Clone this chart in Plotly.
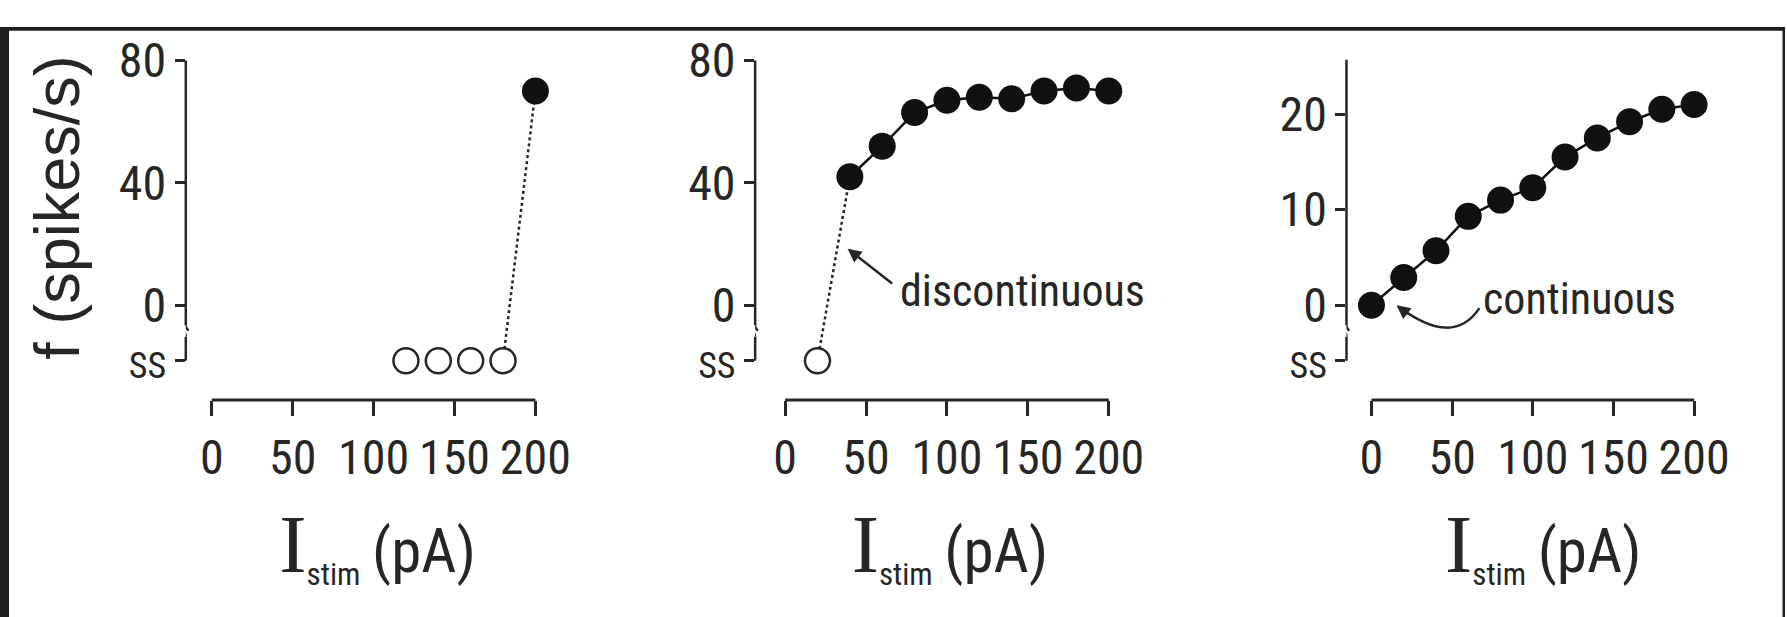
import plotly.graph_objects as go

W, H = 1787, 617

# ---------------- data ----------------
x_tick_vals = [0, 50, 100, 150, 200]
x_tick_text = ["0", "50", "100", "150", "200"]

# panel 1: only the largest current makes the cell fire
p1_ss_x = [120, 140, 160, 180]          # steady state (no repetitive firing)
p1_spk_x = [200]
p1_spk_y = [70]

# panel 2: discontinuous f-I curve
p2_ss_x = [20]
p2_spk_x = [40, 60, 80, 100, 120, 140, 160, 180, 200]
p2_spk_y = [42, 52, 63, 67, 68, 67.5, 70, 71, 70]

# panel 3: continuous f-I curve
p3_x = [0, 20, 40, 60, 80, 100, 120, 140, 160, 180, 200]
p3_y = [0, 2.9, 5.7, 9.3, 11, 12.3, 15.5, 17.5, 19.2, 20.5, 21]

ab_y_tick_vals = [0, 40, 80]
c_y_tick_vals = [0, 10, 20]

# ---------------- style ----------------
INK = "#262626"
NARROW = "Roboto Condensed, Liberation Sans, sans-serif"
SANS = "Liberation Sans, Arial, sans-serif"
SERIF = "Liberation Serif, Times New Roman, serif"
TICK_FS = 48
SS_FS = 36

TOP_PX, BOT_PX, ZERO_PX, SS_PX = 34, 390, 291, 349
BRK_TOP_PX, BRK_BOT_PX = 312, 324
panels = [
    dict(axis=186, x0=212, x200=536, right=570, yscale=(291 - 35) / 80.0, ytop_px=35),
    dict(axis=756, x0=786, x200=1110, right=1146, yscale=(291 - 35) / 80.0, ytop_px=35),
    dict(axis=1348, x0=1373, x200=1696, right=1742, yscale=10.0, ytop_px=34),
]

fig = go.Figure()
shapes, annos = [], []

x_title = ('<span style="font-family:' + SERIF + ';font-size:82px">I</span>'
           '<sub><span style="font-size:31px">stim</span></sub>\u2009(pA)')

for i, p in enumerate(panels):
    n = "" if i == 0 else str(i + 1)
    xs = (p["x200"] - p["x0"]) / 200.0
    xr = [-(p["x0"] - p["axis"]) / xs, 200 + (p["right"] - p["x200"]) / xs]
    ys = p["yscale"]
    yv = lambda px, ys=ys: (ZERO_PX - px) / ys
    yr = [yv(BOT_PX), yv(TOP_PX)]
    ss_val = yv(SS_PX)
    yticks = ab_y_tick_vals if i < 2 else c_y_tick_vals
    fig.layout["xaxis" + n] = dict(
        domain=[p["axis"] / W, p["right"] / W], range=xr, anchor="y" + n,
        showgrid=False, zeroline=False, showline=False,
        tickmode="array", tickvals=x_tick_vals, ticktext=x_tick_text,
        ticks="outside", ticklen=15, tickwidth=2.5, tickcolor=INK,
        ticklabelstandoff=0,
        tickfont=dict(family=NARROW, size=TICK_FS, color=INK),
        title=dict(text=x_title, standoff=44,
                   font=dict(family=NARROW, size=61, color=INK)),
    )
    fig.layout["yaxis" + n] = dict(
        domain=[1 - BOT_PX / H, 1 - TOP_PX / H], range=yr, anchor="x" + n,
        showgrid=False, zeroline=False, showline=False,
        tickmode="array",
        tickvals=[ss_val] + yticks,
        ticktext=['<span style="font-size:%dpx">SS</span>' % SS_FS] + [str(v) for v in yticks],
        ticks="outside", ticklen=10, tickwidth=2.5, tickcolor=INK,
        ticklabelstandoff=-1,
        tickfont=dict(family=NARROW, size=TICK_FS, color=INK),
    )
    xa, ya = "x" + n, "y" + n
    # x axis line spanning 0..200 only
    shapes.append(dict(type="line", xref=xa, yref=ya + " domain", x0=0, x1=200, y0=0, y1=0,
                       line=dict(color=INK, width=3)))
    # broken y axis line (gap between 0 and SS)
    shapes.append(dict(type="line", xref=xa + " domain", yref=ya, x0=0, x1=0,
                       y0=yv(p["ytop_px"]), y1=yv(BRK_TOP_PX), line=dict(color=INK, width=2.5)))
    shapes.append(dict(type="line", xref=xa + " domain", yref=ya, x0=0, x1=0,
                       y0=yv(BRK_BOT_PX), y1=ss_val, line=dict(color=INK, width=2.5)))
    shapes.append(dict(type="path", xref=xa, yref=ya, xsizemode="pixel", ysizemode="pixel",
                       xanchor=xr[0], yanchor=yv(BRK_TOP_PX), path="M0,0 Q0,-4 3,-5",
                       line=dict(color=INK, width=2.5)))
    shapes.append(dict(type="path", xref=xa, yref=ya, xsizemode="pixel", ysizemode="pixel",
                       xanchor=xr[0], yanchor=yv(BRK_BOT_PX), path="M0,0 Q0,4 -3,5",
                       line=dict(color=INK, width=2.5)))
    p["ss"] = ss_val

filled = dict(color="#111111", size=27, line=dict(width=0))
opened = dict(color="white", size=25, line=dict(color=INK, width=2.5))
dotted = dict(color=INK, width=2.5, dash="dot")
solid = dict(color="#111111", width=2.5)

# panel 1
fig.add_trace(go.Scatter(x=[p1_ss_x[-1], p1_spk_x[0]], y=[panels[0]["ss"], p1_spk_y[0]],
                         mode="lines", line=dotted, xaxis="x", yaxis="y", hoverinfo="skip"))
fig.add_trace(go.Scatter(x=p1_ss_x, y=[panels[0]["ss"]] * len(p1_ss_x), mode="markers",
                         marker=opened, xaxis="x", yaxis="y", cliponaxis=False))
fig.add_trace(go.Scatter(x=p1_spk_x, y=p1_spk_y, mode="markers", marker=filled,
                         xaxis="x", yaxis="y", cliponaxis=False))
# panel 2
fig.add_trace(go.Scatter(x=[p2_ss_x[-1], p2_spk_x[0]], y=[panels[1]["ss"], p2_spk_y[0]],
                         mode="lines", line=dotted, xaxis="x2", yaxis="y2", hoverinfo="skip"))
fig.add_trace(go.Scatter(x=p2_ss_x, y=[panels[1]["ss"]] * len(p2_ss_x), mode="markers",
                         marker=opened, xaxis="x2", yaxis="y2", cliponaxis=False))
fig.add_trace(go.Scatter(x=p2_spk_x, y=p2_spk_y, mode="lines+markers", marker=filled,
                         line=solid, xaxis="x2", yaxis="y2", cliponaxis=False))
# panel 3
fig.add_trace(go.Scatter(x=p3_x, y=p3_y, mode="lines+markers", marker=filled,
                         line=solid, xaxis="x3", yaxis="y3", cliponaxis=False))

# y title
annos.append(dict(xref="paper", yref="paper", x=57 / W, y=1 - 188 / H, text="f (spikes/s)",
                  textangle=-90, showarrow=False, xanchor="center", yanchor="middle",
                  font=dict(family=SANS, size=63, color=INK)))
# "discontinuous" label with straight arrow
annos.append(dict(xref="x2", yref="y2", x=38.6, y=18.5, ax=46, ay=36, text="",
                  showarrow=True, arrowhead=2, arrowsize=1.1, arrowwidth=2.5, arrowcolor=INK))
annos.append(dict(xref="x2", yref="y2", x=70, y=4.7, text="discontinuous", xanchor="left",
                  showarrow=False, font=dict(family=NARROW, size=44, color=INK)))
# "continuous" label with curved arrow
shapes.append(dict(type="path", xref="x3", yref="y3", path="M 66.9,-0.3 Q 50.5,-4.45 17,-0.15",
                   line=dict(color=INK, width=2.5)))
annos.append(dict(xref="x3", yref="y3", x=15.5, y=0, ax=13, ay=10, text="",
                  showarrow=True, arrowhead=2, arrowsize=1.1, arrowwidth=2.5, arrowcolor=INK))
annos.append(dict(xref="x3", yref="y3", x=68, y=0.7, text="continuous", xanchor="left",
                  showarrow=False, font=dict(family=NARROW, size=44, color=INK)))

# dark frame of the original picture
FR = "#1f1f1f"
shapes += [
    dict(type="rect", xref="paper", yref="paper", x0=0, x1=1, y0=1 - 4 / H, y1=1,
         fillcolor=FR, line=dict(width=0)),
    dict(type="rect", xref="paper", yref="paper", x0=0, x1=9 / W, y0=0, y1=1,
         fillcolor=FR, line=dict(width=0)),
    dict(type="rect", xref="paper", yref="paper", x0=1 - 2.5 / W, x1=1, y0=0, y1=1,
         fillcolor=FR, line=dict(width=0)),
]

fig.update_layout(width=W, height=H, margin=dict(l=0, r=0, t=0, b=0),
                  paper_bgcolor="white", plot_bgcolor="white", showlegend=False,
                  shapes=shapes, annotations=annos)
fig.write_html("out.html", post_script="document.body.style.margin='0';")
